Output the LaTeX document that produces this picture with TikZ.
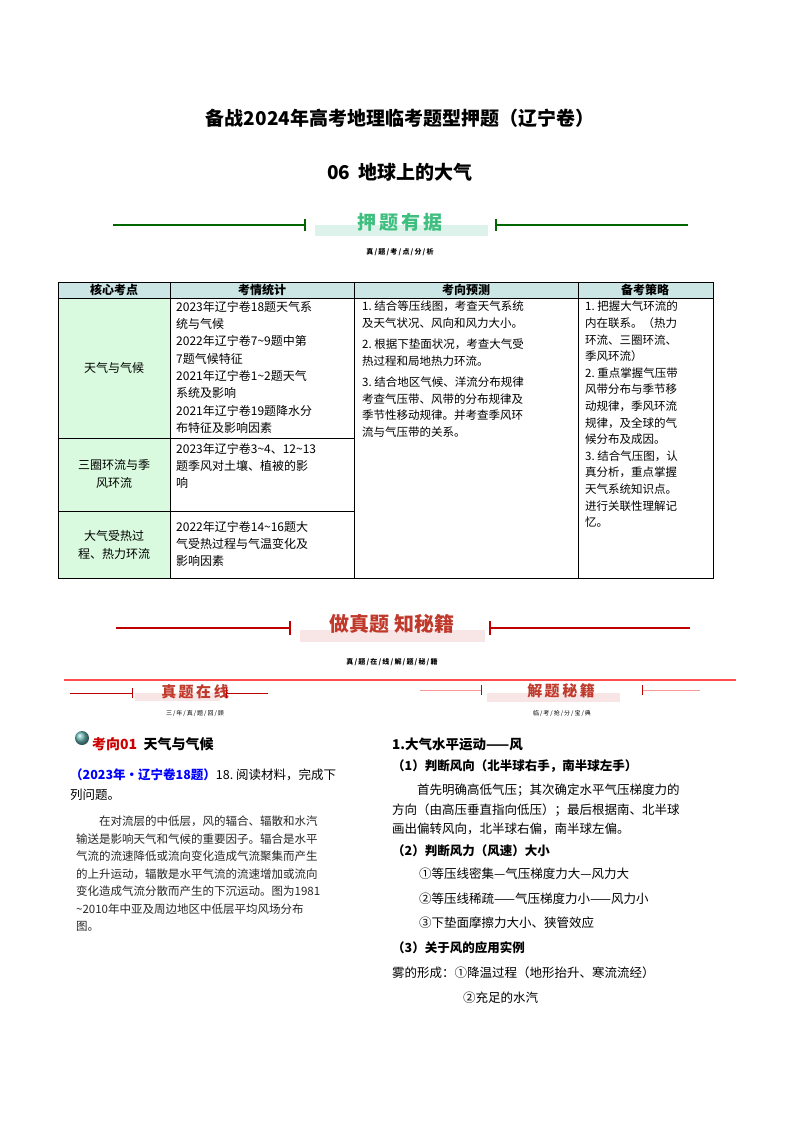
\documentclass[tikz,border=0pt]{standalone}
\usepackage{fontspec}
\setmainfont{Noto Sans CJK SC}
\begin{document}
\begin{tikzpicture}[x=1pt,y=-1pt,
 txt/.style={inner sep=0pt,anchor=north west,align=left,font=\fontsize{12}{17.3}\selectfont},
 tiny/.style={inner sep=0pt,font=\fontsize{7}{8}\selectfont\bfseries},
 gline/.style={draw=green!40!black,line width=1.5pt},
 rline/.style={draw=red!75!black,line width=1.5pt}]
\useasboundingbox (0,0) rectangle (800,1132);
\definecolor{tealc}{HTML}{DDF2EA}
\definecolor{pinkc}{HTML}{F8E6E6}
\definecolor{gtxt}{HTML}{3FBF7F}
\definecolor{rtxt}{HTML}{C0392B}
\node[inner sep=0pt,font=\fontsize{19}{22}\selectfont\bfseries] (t1) at (400,118) {备战2024年高考地理临考题型押题（辽宁卷）};
\node[inner sep=0pt,font=\fontsize{19}{22}\selectfont\bfseries] (t2) at (400,172) {06\ \ 地球上的大气};
\fill[tealc] (315,225) rectangle (488,236);
\node[inner sep=0pt,text=gtxt,font=\fontsize{19}{22}\selectfont\bfseries] (b1) at (400,222) {押\,题\,有\,据};
\draw[gline] (113,225) -- (305,225) (305,219)--(305,231);
\draw[gline] (496,225) -- (688,225) (496,219)--(496,231);
\node[tiny] (s1) at (400,252) {真\,/\,题\,/\,考\,/\,点\,/\,分\,/\,析};
\fill[teal!20] (58,282) rectangle (713,298);
\fill[teal!25!green!15] (58,298) rectangle (170,578);
\draw[line width=0.8pt] (58,282) rectangle (713,578);
\draw (58,298)--(713,298) (170,282)--(170,578) (354,282)--(354,578) (578,282)--(578,578);
\draw (58,438)--(354,438) (58,511)--(354,511);
\node[inner sep=0pt,font=\fontsize{12}{14}\selectfont\bfseries] (h1) at (114,290) {核心考点};
\node[inner sep=0pt,font=\fontsize{12}{14}\selectfont\bfseries] (h2) at (262,290) {考情统计};
\node[inner sep=0pt,font=\fontsize{12}{14}\selectfont\bfseries] (h3) at (466,290) {考向预测};
\node[inner sep=0pt,font=\fontsize{12}{14}\selectfont\bfseries] (h4) at (645,290) {备考策略};
\node[inner sep=0pt,font=\fontsize{12}{14}\selectfont] (c1) at (114,368) {天气与气候};
\node[inner sep=0pt,align=center,font=\fontsize{12}{18}\selectfont] (c2) at (114,474) {三圈环流与季\\风环流};
\node[inner sep=0pt,align=center,font=\fontsize{12}{18}\selectfont] (c3) at (114,545) {大气受热过\\程、热力环流};
\node[txt] (d1) at (176,301) {2023年辽宁卷18题天气系\\统与气候\\2022年辽宁卷7\textasciitilde9题中第\\7题气候特征\\2021年辽宁卷1\textasciitilde2题天气\\系统及影响\\2021年辽宁卷19题降水分\\布特征及影响因素};
\node[txt] (d2) at (176,443) {2023年辽宁卷3\textasciitilde4、12\textasciitilde13\\题季风对土壤、植被的影\\响};
\node[txt] (d3) at (176,521) {2022年辽宁卷14\textasciitilde16题大\\气受热过程与气温变化及\\影响因素};
\node[txt,font=\fontsize{11.5}{16.5}\selectfont] (e1) at (362,301) {1.\ 结合等压线图，考查天气系统\\及天气状况、风向和风力大小。\\[5pt]2.\ 根据下垫面状况，考查大气受\\热过程和局地热力环流。\\[5pt]3.\ 结合地区气候、洋流分布规律\\考查气压带、风带的分布规律及\\季节性移动规律。并考查季风环\\流与气压带的关系。};
\node[txt,font=\fontsize{11.5}{16.6}\selectfont] (f1) at (585,301) {1.\ 把握大气环流的\\内在联系。（热力\\环流、三圈环流、\\季风环流）\\2.\ 重点掌握气压带\\风带分布与季节移\\动规律，季风环流\\规律，及全球的气\\候分布及成因。\\3.\ 结合气压图，认\\真分析，重点掌握\\天气系统知识点。\\进行关联性理解记\\忆。};
\fill[pinkc] (300,630) rectangle (485,642);
\node[inner sep=0pt,text=rtxt,font=\fontsize{20}{22}\selectfont\bfseries] (b2) at (392,624) {做真题\ 知秘籍};
\draw[rline] (116,628)--(290,628) (290,621)--(290,635);
\draw[rline] (490,628)--(690,628) (490,621)--(490,635);
\node[tiny] (s2) at (392,662) {真\,/\,题\,/\,在\,/\,线\,/\,解\,/\,题\,/\,秘\,/\,籍};
\draw[draw=red!70,line width=1.5pt] (64,680)--(736,680);
\fill[pinkc] (135,693) rectangle (220,701);
\node[inner sep=0pt,text=rtxt,font=\fontsize{15}{17}\selectfont\bfseries] (b3) at (195,692) {真\,题\,在\,线};
\draw[rline,line width=1pt] (70,693)--(132,693) (132,688)--(132,698);
\draw[rline,line width=1pt] (226,693)--(268,693) (226,688)--(226,698);
\node[tiny,font=\fontsize{6}{7}\selectfont] (s3) at (195,713) {三\,/\,年\,/\,真\,/\,题\,/\,回\,/\,顾};
\fill[pinkc] (487,693) rectangle (620,702);
\node[inner sep=0pt,text=rtxt,font=\fontsize{15}{17}\selectfont\bfseries] (b4) at (561,691) {解\,题\,秘\,籍};
\draw[draw=red!40,line width=1pt] (420,690)--(481,690);\draw[rline,line width=1pt] (481,685)--(481,695);
\draw[draw=red!40,line width=1pt] (642,690)--(700,690);\draw[rline,line width=1pt] (642,685)--(642,695);
\node[tiny,font=\fontsize{6}{7}\selectfont] (s4) at (562,713) {临\,/\,考\,/\,抢\,/\,分\,/\,宝\,/\,典};
\shade[ball color=teal!60] (82,738) circle (7);
\node[inner sep=0pt,anchor=west,font=\fontsize{14}{16}\selectfont\bfseries] (k1) at (92,744) {\textcolor{red!80!black}{考向01}\ \ 天气与气候};
\node[txt,font=\fontsize{12.5}{20}\selectfont] (p1) at (70,768) {\textcolor{blue}{\bfseries（2023年·辽宁卷18题）}18.\ 阅读材料，完成下\\列问题。};
\node[txt,font=\fontsize{11.5}{17.5}\selectfont,text=black!85] (p2) at (76,816) {\hspace{2em}在对流层的中低层，风的辐合、辐散和水汽\\输送是影响天气和气候的重要因子。辐合是水平\\气流的流速降低或流向变化造成气流聚集而产生\\的上升运动，辐散是水平气流的流速增加或流向\\变化造成气流分散而产生的下沉运动。图为1981\\\textasciitilde2010年中亚及周边地区中低层平均风场分布\\图。};
\node[inner sep=0pt,anchor=west,font=\fontsize{13.5}{16}\selectfont\bfseries] (r1) at (392,744) {1.大气水平运动——风};
\node[inner sep=0pt,anchor=west,font=\fontsize{12.5}{16}\selectfont\bfseries] (r2) at (392,766) {（1）判断风向（北半球右手，南半球左手）};
\node[inner sep=0pt,anchor=west,font=\fontsize{12.5}{16}\selectfont] (r3a) at (392,790) {\hspace{2em}首先明确高低气压；其次确定水平气压梯度力的};
\node[inner sep=0pt,anchor=west,font=\fontsize{12.5}{16}\selectfont] (r3b) at (392,810) {方向（由高压垂直指向低压）；最后根据南、北半球};
\node[inner sep=0pt,anchor=west,font=\fontsize{12.5}{16}\selectfont] (r3c) at (392,829) {画出偏转风向，北半球右偏，南半球左偏。};
\node[inner sep=0pt,anchor=west,font=\fontsize{12.5}{16}\selectfont\bfseries] (r4) at (392,851) {（2）判断风力（风速）大小};
\node[inner sep=0pt,anchor=west,font=\fontsize{12.5}{16}\selectfont] (r5) at (419,874) {①等压线密集—气压梯度力大—风力大};
\node[inner sep=0pt,anchor=west,font=\fontsize{12.5}{16}\selectfont] (r6) at (419,899) {②等压线稀疏——气压梯度力小——风力小};
\node[inner sep=0pt,anchor=west,font=\fontsize{12.5}{16}\selectfont] (r7) at (419,923) {③下垫面摩擦力大小、狭管效应};
\node[inner sep=0pt,anchor=west,font=\fontsize{12.5}{16}\selectfont\bfseries] (r8) at (392,948) {（3）关于风的应用实例};
\node[inner sep=0pt,anchor=west,font=\fontsize{12.5}{16}\selectfont] (r9) at (392,973) {雾的形成：①降温过程（地形抬升、寒流流经）};
\node[inner sep=0pt,anchor=west,font=\fontsize{12.5}{16}\selectfont] (r10) at (463,998) {②充足的水汽};
\end{tikzpicture}
\end{document}
